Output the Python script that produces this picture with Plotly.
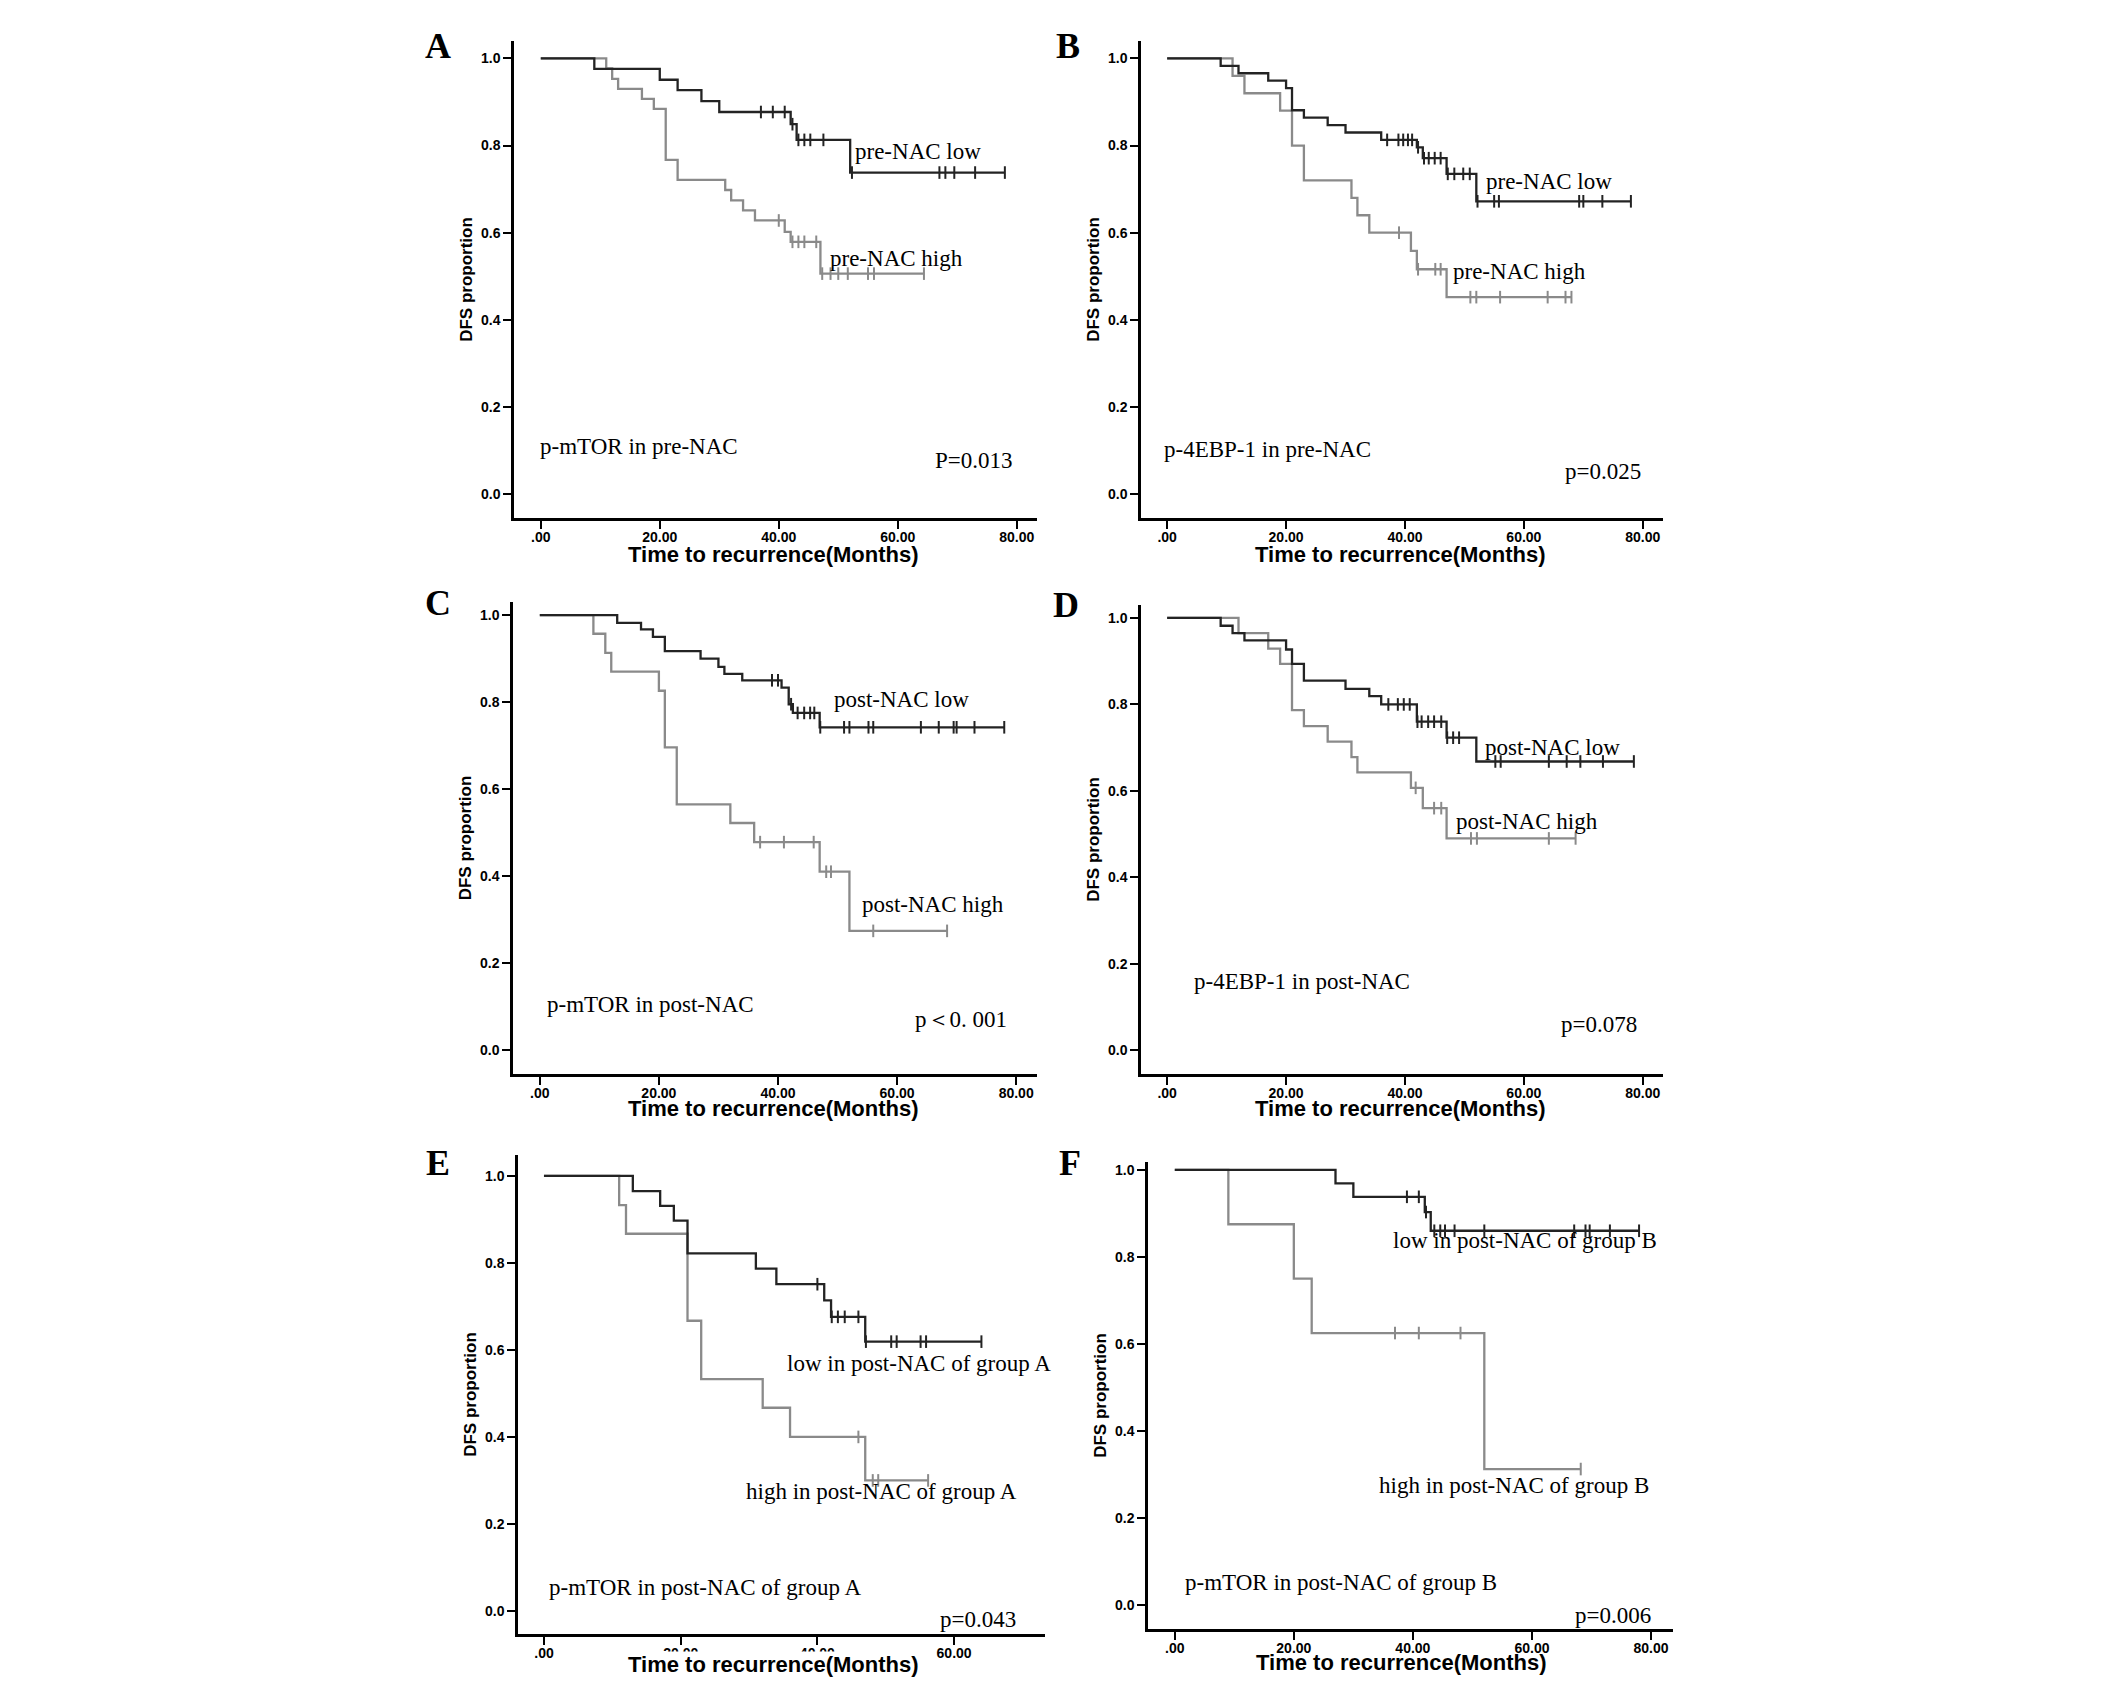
import bisect
import plotly.graph_objects as go

W, H = 2126, 1682
OFF = 8  # page body margin of the exported html

# ---- values (months / DFS proportion) ----
# event times, survival after each event, censor marks
a_low_t = [9, 20, 23, 27, 30, 42, 43, 52]
a_low_s = [0.976, 0.951, 0.927, 0.902, 0.877, 0.849, 0.813, 0.738]
a_low_c = [37, 39, 41, 42.3, 43.3, 44.3, 45.3, 47.5, 52.3, 67, 68, 69.5, 73, 78]
a_high_t = [11, 12, 13, 17, 19, 21, 23, 31, 32, 34, 36, 41, 42, 47]
a_high_s = [0.977, 0.953, 0.930, 0.907, 0.884, 0.767, 0.721, 0.698, 0.674, 0.651, 0.628, 0.602, 0.579, 0.506]
a_high_c = [40, 42.3, 43.3, 44.3, 46.3, 47.3, 48.7, 50, 51.6, 55, 56, 64.4]

b_low_t = [9, 12, 17, 20, 21, 23, 27, 30, 36, 42, 43, 47, 52]
b_low_s = [0.983, 0.966, 0.949, 0.932, 0.881, 0.864, 0.847, 0.830, 0.813, 0.796, 0.771, 0.735, 0.672]
b_low_c = [37, 38.9, 39.7, 40.5, 41.2, 42.2, 43.2, 44, 45, 46, 47.2, 48.3, 49.8, 50.9, 52.2, 55, 55.8, 69.3, 70, 73.2, 78]
b_high_t = [11, 13, 19, 21, 23, 31, 32, 34, 41, 42, 47]
b_high_s = [0.96, 0.92, 0.88, 0.80, 0.72, 0.68, 0.64, 0.60, 0.558, 0.516, 0.452]
b_high_c = [39, 42.2, 45.1, 46, 51, 52, 56, 64, 67, 68]

c_low_t = [13, 17, 19, 21, 27, 30, 31, 34, 40.6, 41.8, 42.5, 47]
c_low_s = [0.982, 0.967, 0.95, 0.917, 0.90, 0.881, 0.865, 0.85, 0.833, 0.795, 0.775, 0.742]
c_low_c = [39, 40, 42.2, 43.3, 44.4, 45.4, 46.1, 47.1, 51.1, 52, 55.2, 56, 64, 67, 69.5, 70, 73, 78]
c_high_t = [9, 11, 12, 20, 21, 23, 32, 36, 47, 52]
c_high_s = [0.957, 0.913, 0.87, 0.826, 0.696, 0.565, 0.522, 0.478, 0.41, 0.274]
c_high_c = [37, 41, 46, 48.1, 48.9, 56, 68.4]

d_low_t = [9, 11, 13, 20, 21, 23, 30, 34, 36, 42, 47, 52]
d_low_s = [0.982, 0.965, 0.948, 0.927, 0.894, 0.855, 0.836, 0.819, 0.80, 0.76, 0.723, 0.668]
d_low_c = [37.2, 38.8, 39.8, 40.8, 42.1, 42.8, 43.9, 44.9, 46.1, 47.1, 48.1, 49.1, 55.2, 56.1, 64.2, 67.2, 69.5, 73.3, 78.5]
d_high_t = [12, 17, 19, 21, 23, 27, 31, 32, 41, 43, 47]
d_high_s = [0.965, 0.929, 0.894, 0.787, 0.75, 0.714, 0.678, 0.643, 0.607, 0.56, 0.49]
d_high_c = [41.8, 44.9, 46.1, 51.1, 52.1, 64.2, 68.7]

e_low_t = [13, 17, 19, 21, 31, 34, 41, 42, 47]
e_low_s = [0.965, 0.931, 0.897, 0.822, 0.787, 0.751, 0.714, 0.676, 0.619]
e_low_c = [40, 42.1, 43, 44, 46, 47.1, 50.8, 51.6, 55.1, 55.9, 64]
e_high_t = [11, 12, 21, 23, 32, 36, 47]
e_high_s = [0.933, 0.867, 0.667, 0.533, 0.467, 0.40, 0.30]
e_high_c = [46, 48.1, 48.9, 56.2]

f_low_t = [27, 30, 42, 43]
f_low_s = [0.969, 0.938, 0.903, 0.86]
f_low_c = [39, 41, 42.2, 43.6, 44.6, 45.4, 47, 52, 67.1, 69, 69.7, 73.1, 78]
f_high_t = [9, 20, 23, 52]
f_high_s = [0.875, 0.75, 0.625, 0.3125]
f_high_c = [37, 41, 48, 68.2]

# panel texts
panel_letters = ["A", "B", "C", "D", "E", "F"]
low_labels = ["pre-NAC low", "pre-NAC low", "post-NAC low", "post-NAC low",
              "low in post-NAC of group A", "low in post-NAC of group B"]
high_labels = ["pre-NAC high", "pre-NAC high", "post-NAC high", "post-NAC high",
               "high in post-NAC of group A", "high in post-NAC of group B"]
marker_labels = ["p-mTOR in pre-NAC", "p-4EBP-1 in pre-NAC", "p-mTOR in post-NAC",
                 "p-4EBP-1 in post-NAC", "p-mTOR in post-NAC of group A",
                 "p-mTOR in post-NAC of group B"]
p_labels = ["P=0.013", "p=0.025", "p\uff1c0. 001", "p=0.078", "p=0.043", "p=0.006"]
x_title = "Time to recurrence(Months)"
y_title = "DFS proportion"

x_ticks = [0, 20, 40, 60, 80]
x_tick_text = [".00", "20.00", "40.00", "60.00", "80.00"]
y_ticks = [0, 0.2, 0.4, 0.6, 0.8, 1.0]
y_tick_text = ["0.0", "0.2", "0.4", "0.6", "0.8", "1.0"]

curves = [
    (a_low_t, a_low_s, a_low_c, a_high_t, a_high_s, a_high_c),
    (b_low_t, b_low_s, b_low_c, b_high_t, b_high_s, b_high_c),
    (c_low_t, c_low_s, c_low_c, c_high_t, c_high_s, c_high_c),
    (d_low_t, d_low_s, d_low_c, d_high_t, d_high_s, d_high_c),
    (e_low_t, e_low_s, e_low_c, e_high_t, e_high_s, e_high_c),
    (f_low_t, f_low_s, f_low_c, f_high_t, f_high_s, f_high_c),
]

# ---- layout of each panel in pixels: (left, right, top, bottom), x range, y range ----
panel_px = [
    (514, 1037, 41, 518), (1141, 1663, 41, 518),
    (513, 1037, 602, 1074), (1141, 1663, 605, 1074),
    (518, 1045, 1155, 1634), (1148, 1673, 1162, 1629),
]
x_ranges = [[-4.5, 83.4], [-4.4, 83.4], [-4.5, 83.5], [-4.4, 83.4], [-3.8, 73.3], [-4.5, 83.7]]
y_ranges = [[-0.055, 1.04], [-0.055, 1.04], [-0.055, 1.03], [-0.055, 1.03], [-0.053, 1.048], [-0.055, 1.018]]
letter_px = [(438, 46), (1068, 46), (438, 603), (1066, 605), (438, 1163), (1070, 1163)]
xtitle_px = [(773, 554), (1400, 554), (773, 1108), (1400, 1108), (773, 1664), (1401, 1662)]
xtitle_bg = [None, None, None, None, "white", None]
# label anchor positions in data units: low, high, marker, p
low_pos = [(52.4, 0.787), (53.3, 0.718), (49.1, 0.806), (53.1, 0.70), (35.3, 0.569), (36.4, 0.838)]
high_pos = [(48.3, 0.54), (47.7, 0.51), (53.7, 0.334), (48.3, 0.528), (29.3, 0.275), (33.9, 0.275)]
marker_pos = [(-0.4, 0.11), (-0.9, 0.102), (0.9, 0.104), (4.1, 0.159), (0.5, 0.053), (1.3, 0.053)]
p_pos = [(65.9, 0.077), (66.6, 0.051), (62.7, 0.071), (65.9, 0.06), (57.6, -0.02), (66.9, -0.023)]

DARK = "#232323"
LIGHT = "#8a8a8a"
SANS = "Liberation Sans, Arial, sans-serif"
SERIF = "Liberation Serif, Times New Roman, serif"


def px_x(v):
    return (v - OFF) / W


def px_y(v):
    return 1 - (v - OFF) / H


def step_xy(times, surv, cens):
    end = max(cens + times)
    return [0] + times + [end], [1.0] + surv + [surv[-1]]


def surv_at(times, surv, t):
    i = bisect.bisect_right(times, t)
    return 1.0 if i == 0 else surv[i - 1]


fig = go.Figure()
annotations = []

for k in range(6):
    xa = "x" if k == 0 else f"x{k + 1}"
    ya = "y" if k == 0 else f"y{k + 1}"
    lt, ls, lc, ht, hs, hc = curves[k]
    for t, s, c, col in [(ht, hs, hc, LIGHT), (lt, ls, lc, DARK)]:
        sx, sy = step_xy(t, s, c)
        fig.add_trace(go.Scatter(
            x=sx, y=sy, mode="lines", line_shape="hv",
            line=dict(color=col, width=2.3),
            xaxis=xa, yaxis=ya, showlegend=False, hoverinfo="skip"))
        fig.add_trace(go.Scatter(
            x=c, y=[surv_at(t, s, v) for v in c], mode="markers",
            marker=dict(symbol="line-ns-open", size=9, color=col,
                        line=dict(color=col, width=2)),
            xaxis=xa, yaxis=ya, showlegend=False, hoverinfo="skip"))

    l, r, top, bot = panel_px[k]
    ax_x = dict(
        domain=[px_x(l), px_x(r)], range=x_ranges[k], anchor=ya,
        showline=True, linecolor="black", linewidth=2.5, mirror=False,
        ticks="outside", ticklen=8, tickwidth=2, tickcolor="black",
        tickvals=x_ticks, ticktext=x_tick_text, ticklabelstandoff=-4,
        tickfont=dict(family=SANS, size=14, color="black", weight="bold"),
        showgrid=False, zeroline=False,
    )
    ax_y = dict(
        domain=[px_y(bot), px_y(top)], range=y_ranges[k], anchor=xa,
        showline=True, linecolor="black", linewidth=2.5, mirror=False,
        ticks="outside", ticklen=8, tickwidth=2, tickcolor="black",
        tickvals=y_ticks, ticktext=y_tick_text, ticklabelstandoff=0,
        tickfont=dict(family=SANS, size=14, color="black", weight="bold"),
        showgrid=False, zeroline=False,
        title=dict(text=y_title, standoff=5,
                   font=dict(family=SANS, size=17, color="black", weight="bold")),
    )
    fig.layout["xaxis" if k == 0 else f"xaxis{k + 1}"] = ax_x
    fig.layout["yaxis" if k == 0 else f"yaxis{k + 1}"] = ax_y

    tx, ty = xtitle_px[k]
    title_ann = dict(
        text=x_title, xref="paper", yref="paper", x=px_x(tx), y=px_y(ty),
        xanchor="center", yanchor="middle", showarrow=False, borderpad=0,
        font=dict(family=SANS, size=22, color="black", weight="bold"))
    if xtitle_bg[k]:
        title_ann["bgcolor"] = xtitle_bg[k]
    annotations.append(title_ann)

    lx, ly = letter_px[k]
    annotations.append(dict(
        text=f"<b>{panel_letters[k]}</b>", xref="paper", yref="paper",
        x=px_x(lx), y=px_y(ly), xanchor="center", yanchor="middle",
        showarrow=False, font=dict(family=SERIF, size=36, color="black")))
    for txt, pos in [(low_labels[k], low_pos[k]), (high_labels[k], high_pos[k]),
                     (marker_labels[k], marker_pos[k]), (p_labels[k], p_pos[k])]:
        annotations.append(dict(
            text=txt, xref=xa, yref=ya, x=pos[0], y=pos[1],
            xanchor="left", yanchor="middle", showarrow=False,
            font=dict(family=SERIF, size=23, color="black")))

fig.update_layout(
    width=W, height=H,
    margin=dict(l=0, r=0, t=0, b=0),
    paper_bgcolor="white", plot_bgcolor="white",
    annotations=annotations,
)

fig.write_html("out.html")
